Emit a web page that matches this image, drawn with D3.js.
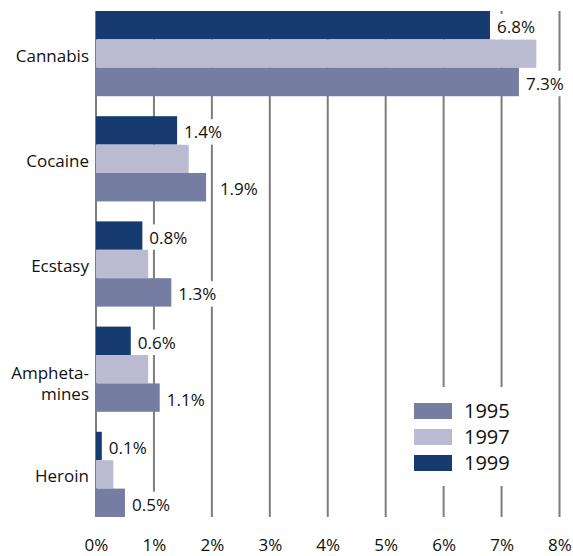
<!DOCTYPE html>
<html>
<head>
<meta charset="utf-8">
<script src="https://cdn.jsdelivr.net/npm/d3@7/dist/d3.min.js"></script>
<style>
  html, body { margin: 0; padding: 0; background: #fff; }
  svg { display: block; font-family: "Open Sans", "Noto Sans", sans-serif; }
</style>
</head>
<body>
<div id="chart"></div>
<script>
// Prevalence of drug use by substance, survey years 1995, 1997 and 1999 (%)
const categories = ["Cannabis", "Cocaine", "Ecstasy", "Amphetamines", "Heroin"];
const categoryLines = [["Cannabis"], ["Cocaine"], ["Ecstasy"], ["Ampheta-", "mines"], ["Heroin"]];
const years = ["1999", "1997", "1995"];          // top-to-bottom order inside each group
const legendYears = ["1995", "1997", "1999"];    // legend order
const values1995 = [7.3, 1.9, 1.3, 1.1, 0.5];
const values1997 = [7.6, 1.6, 0.9, 0.9, 0.3];
const values1999 = [6.8, 1.4, 0.8, 0.6, 0.1];
const labelledYears = ["1999", "1995"];
const tickValues = [0, 1, 2, 3, 4, 5, 6, 7, 8];

const seriesByYear = { "1995": values1995, "1997": values1997, "1999": values1999 };
const colors = { "1995": "#767da3", "1997": "#babbd1", "1999": "#163b70" };

const W = 573, H = 556;
const plotTop = 11, plotBottom = 517;

const svg = d3.select("#chart").append("svg")
  .attr("width", W).attr("height", H);

const x = d3.scaleLinear().domain([0, 8]).range([96, 559.5]);
const y = d3.scaleBand().domain(categories).range([plotTop, plotBottom])
  .paddingInner(0.19).paddingOuter(0);
const yInner = d3.scaleBand().domain(years).range([0, y.bandwidth()]);

// vertical gridlines (0% line doubles as the axis)
const grid = svg.append("g").attr("class", "grid");
grid.selectAll("line").data(tickValues).join("line")
  .attr("x1", d => x(d)).attr("x2", d => x(d))
  .attr("y1", plotTop).attr("y2", plotBottom)
  .attr("stroke", "#7d7d7d").attr("stroke-width", 2);

// tick labels along the bottom
const xAxis = d3.axisBottom(x).tickValues(tickValues)
  .tickFormat(d => d + "%").tickSize(0).tickPadding(0);
const axisG = svg.append("g").attr("transform", `translate(0,${551})`).call(xAxis);
axisG.select(".domain").remove();
axisG.selectAll("text")
  .attr("dy", 0).attr("y", 0)
  .attr("font-size", 17).attr("fill", "#111")
  .attr("font-family", "'Open Sans', 'Noto Sans', sans-serif");

// bars
const rows = [];
categories.forEach((c, i) => {
  years.forEach(yr => rows.push({ cat: c, year: yr, value: seriesByYear[yr][i] }));
});

svg.append("g").selectAll("rect").data(rows).join("rect")
  .attr("x", x(0))
  .attr("y", d => y(d.cat) + yInner(d.year))
  .attr("width", d => x(d.value) - x(0))
  .attr("height", yInner.bandwidth())
  .attr("fill", d => colors[d.year]);

// value labels, placed clear of any nearby gridline, on a white backing
const labelGap = 7;
const labels = svg.append("g");
rows.filter(d => labelledYears.includes(d.year)).forEach(d => {
  let lx = x(d.value) + labelGap;
  tickValues.forEach(t => {
    const gx = x(t);
    if (lx > gx - 4 && lx < gx + 4) lx = gx + 8;
  });
  const rowTop = y(d.cat) + yInner(d.year);
  const g = labels.append("g");
  const bg = g.append("rect").attr("fill", "#fff");
  const t = g.append("text")
    .attr("x", lx).attr("y", rowTop + yInner.bandwidth() / 2 + 8)
    .attr("font-size", 17).attr("fill", "#111")
    .text(d.value.toFixed(1) + "%");
  const bb = t.node().getBBox();
  bg.attr("x", bb.x - 2).attr("width", bb.width + 3)
    .attr("y", rowTop + 3).attr("height", yInner.bandwidth() - 3);
});

// category labels
const catG = svg.append("g");
categories.forEach((c, i) => {
  const lines = categoryLines[i];
  const cy = y(c) + y.bandwidth() / 2;
  const t = catG.append("text")
    .attr("text-anchor", "end").attr("font-size", 17).attr("fill", "#111");
  lines.forEach((ln, j) => {
    t.append("tspan").attr("x", 89)
      .attr("y", cy + 8 + (lines.length - 1) * 2 + j * 21)
      .text(ln);
  });
});

// legend
const lg = svg.append("g");
lg.append("rect").attr("x", 392).attr("y", 387).attr("width", 160).attr("height", 99)
  .attr("fill", "#fff");
legendYears.forEach((yr, i) => {
  const cy = 411 + i * 26;
  lg.append("rect").attr("x", 414).attr("y", cy - 8).attr("width", 38).attr("height", 16)
    .attr("fill", colors[yr]);
  lg.append("text").attr("x", 464).attr("y", cy + 7)
    .attr("font-size", 20).attr("fill", "#111").text(yr);
});
</script>
</body>
</html>
